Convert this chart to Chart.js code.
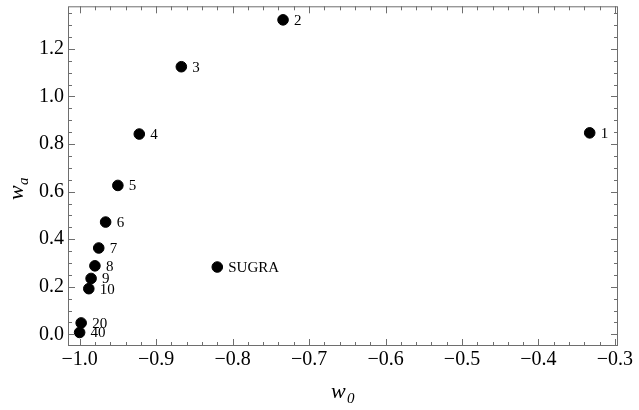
<!DOCTYPE html>
<html>
<head>
<meta charset="utf-8">
<script src="https://cdn.jsdelivr.net/npm/chart.js@4"></script>
<style>
  html, body { margin: 0; padding: 0; background: #fff; }
  #wrap { width: 639px; height: 410px; }
</style>
</head>
<body>
<div id="wrap"><canvas id="chartContainer"></canvas></div>
<script>
const pointLabels = ['1', '2', '3', '4', '5', '6', '7', '8', '9', '10', '20', '40', 'SUGRA'];
const w0Values = [-0.333, -0.734, -0.867, -0.922, -0.950, -0.966, -0.975, -0.980, -0.985, -0.988, -0.998, -1.000, -0.820];
const waValues = [0.847, 1.322, 1.125, 0.842, 0.626, 0.472, 0.363, 0.288, 0.235, 0.192, 0.048, 0.008, 0.283];
const xTicks = [-1.0, -0.9, -0.8, -0.7, -0.6, -0.5, -0.4, -0.3];
const yTicks = [0.0, 0.2, 0.4, 0.6, 0.8, 1.0, 1.2];

const SERIF = '"Liberation Serif", "Times New Roman", serif';

// frame, inward ticks, point labels and axis titles
const decorations = {
    id: 'decorations',
    afterDatasetsDraw(chart) {
        const ctx = chart.ctx;
        const a = chart.chartArea;
        const xs = chart.scales.x, ys = chart.scales.y;
        ctx.save();
        ctx.strokeStyle = '#6e6e6e';
        ctx.lineWidth = 1;
        ctx.strokeRect(a.left + 0.5, a.top + 0.5, a.right - a.left - 1, a.bottom - a.top - 1);

        ctx.beginPath();
        for (let i = -51; i <= -14; i++) {
            const v = i * 0.02;
            const px = Math.round(xs.getPixelForValue(v)) + 0.5;
            if (px < a.left + 1 || px > a.right - 1) continue;
            const len = (i % 5 === 0) ? 7 : 4;
            ctx.moveTo(px, a.bottom); ctx.lineTo(px, a.bottom - len);
            ctx.moveTo(px, a.top); ctx.lineTo(px, a.top + len);
        }
        for (let j = -1; j <= 28; j++) {
            const v = j * 0.05;
            const py = Math.round(ys.getPixelForValue(v)) + 0.5;
            if (py < a.top + 1 || py > a.bottom - 1) continue;
            const len = (j % 4 === 0) ? 7 : 4;
            ctx.moveTo(a.left, py); ctx.lineTo(a.left + len, py);
            ctx.moveTo(a.right, py); ctx.lineTo(a.right - len, py);
        }
        ctx.stroke();

        // labels beside points
        const meta = chart.getDatasetMeta(0);
        ctx.fillStyle = '#000';
        ctx.font = '15px ' + SERIF;
        ctx.textBaseline = 'middle';
        ctx.textAlign = 'left';
        meta.data.forEach((pt, i) => {
            ctx.fillText(pointLabels[i], pt.x + 11, pt.y + 1);
        });

        // x title w0
        ctx.font = 'italic 22px ' + SERIF;
        ctx.textBaseline = 'alphabetic';
        ctx.fillText('w', 331, 398);
        ctx.font = 'italic 15px ' + SERIF;
        ctx.fillText('0', 347, 403);

        // y title wa
        ctx.translate(23, 200);
        ctx.rotate(-Math.PI / 2);
        ctx.font = 'italic 22px ' + SERIF;
        ctx.fillText('w', 0, 0);
        ctx.font = 'italic 15px ' + SERIF;
        ctx.fillText('a', 15, 5);
        ctx.restore();
    }
};

function displayChart() {
    const chartContainer = document.getElementById('chartContainer');
    new Chart(chartContainer, {
        type: 'scatter',
        data: {
            datasets: [{
                data: w0Values.map((x, i) => ({ x: x, y: waValues[i] })),
                backgroundColor: '#000',
                borderColor: '#000',
                pointRadius: 5.3,
                pointHoverRadius: 5.3
            }]
        },
        options: {
            responsive: true,
            maintainAspectRatio: false,
            animation: false,
            layout: { padding: { top: 5, right: 21, left: 0, bottom: 0 } },
            plugins: { legend: { display: false }, tooltip: { enabled: false } },
            scales: {
                x: {
                    type: 'linear',
                    min: -1.0152,
                    max: -0.296,
                    grid: { display: false, drawTicks: false },
                    border: { display: false },
                    afterBuildTicks: s => { s.ticks = xTicks.map(v => ({ value: v })); },
                    afterFit: s => { s.height = 64; s.paddingLeft = 0; s.paddingRight = 0; },
                    ticks: {
                        padding: 2,
                        color: '#000',
                        font: { family: SERIF, size: 20 },
                        callback: v => v.toFixed(1).replace('-', '\u2212')
                    }
                },
                y: {
                    type: 'linear',
                    min: -0.049,
                    max: 1.379,
                    grid: { display: false, drawTicks: false },
                    border: { display: false },
                    afterBuildTicks: s => { s.ticks = yTicks.map(v => ({ value: v })); },
                    afterFit: s => { s.width = 68; s.paddingTop = 0; s.paddingBottom = 0; },
                    ticks: {
                        padding: 4,
                        color: '#000',
                        font: { family: SERIF, size: 20 },
                        callback: v => v.toFixed(1)
                    }
                }
            }
        },
        plugins: [decorations]
    });
}

window.onload = function() {
    displayChart();
};
</script>
</body>
</html>
